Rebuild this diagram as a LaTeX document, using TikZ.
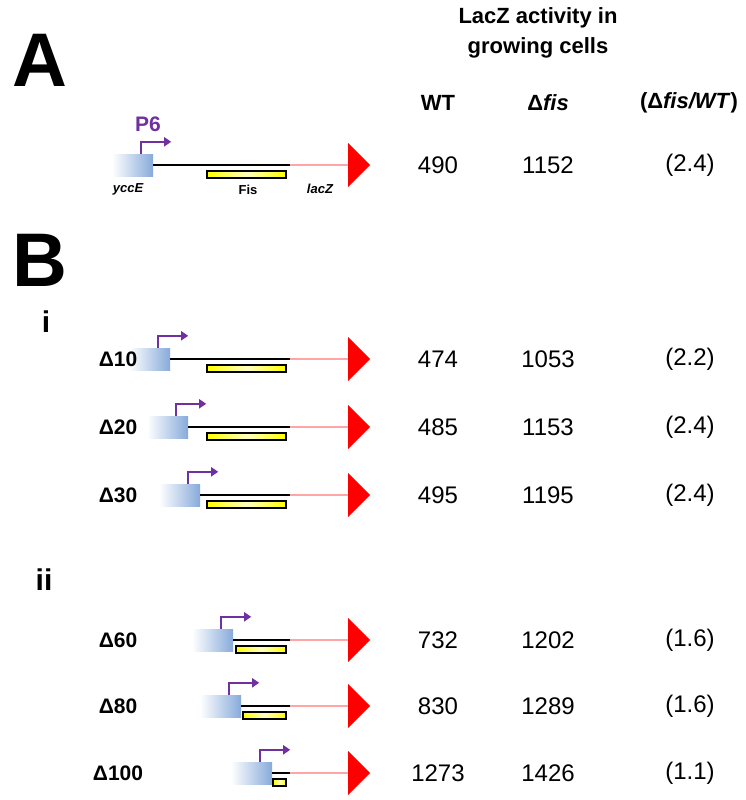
\documentclass[tikz,border=0pt]{standalone}
\usepackage{fontspec}
\setmainfont{Liberation Sans}
\usetikzlibrary{shapes.arrows,arrows.meta,fit}
\definecolor{promblue}{RGB}{135,170,218}
\definecolor{promviolet}{RGB}{112,48,160}

\begin{document}
\begin{tikzpicture}[x=1pt,y=-1pt,
    pnode/.style={draw=none,minimum width=41pt,minimum height=22pt,inner sep=0,left color=white,right color=promblue},
    fnode/.style={draw,line width=1.2pt,inner sep=0,left color=yellow,right color=yellow,middle color=yellow!25},
    gnode/.style={single arrow,fill=red,draw=none,minimum height=80pt,minimum width=44pt,single arrow head extend=9pt,inner sep=0},
    prom/.style={promviolet,line width=2.5pt,-{Triangle[length=7pt,width=9pt]}},
    val/.style={font=\fontsize{24}{26}\selectfont},
    hdr/.style={font=\fontsize{22}{30}\selectfont\bfseries},
    rlab/.style={font=\fontsize{21}{21}\selectfont\bfseries},
    small/.style={font=\fontsize{13}{13}\selectfont\bfseries}]
    \useasboundingbox (0,0) rectangle (746,800);

    % headers
    \node[font=\fontsize{76}{76}\selectfont\bfseries] (A) at (40,60) {A};
    \node[font=\fontsize{76}{76}\selectfont\bfseries] (B) at (40,260) {B};
    \node[hdr,align=center] (t) at (538,33) {LacZ activity in\\growing cells};
    \node[hdr] (hwt) at (438,103) {WT};
    \node[hdr] (hfis) at (548,103) {Δ\textit{fis}};
    \node[hdr] (hr) at (689,103) {(Δ\textit{fis/WT})};
    \node[font=\fontsize{30}{30}\selectfont\bfseries] (i) at (46,322) {i};
    \node[font=\fontsize{30}{30}\selectfont\bfseries] (ii) at (44,580) {ii};

    % constructs
    \foreach \nm/\lab/\y/\bx/\fx/\wt/\fis/\r in {a//165/153/207/490/1152/2.4,
        d10/10/359/170/207/474/1053/2.2, d20/20/427/188/207/485/1153/2.4,
        d30/30/495/200/207/495/1195/2.4, d60/60/640/233/236/732/1202/1.6,
        d80/80/706/241/243/830/1289/1.6, d100/100/773/272/273/1273/1426/1.1} {
      \node[pnode] (\nm p) at (\bx-20.5,\y) {};
      \node[gnode,anchor=west] (\nm g) at (290,\y) {};
      \draw[line width=1.6pt] (\nm p.east) -- (\nm g.west);
      \path (\fx,\y+6) coordinate (\nm f1) (286,\y+13) coordinate (\nm f2);
      \node[fnode,fit=(\nm f1)(\nm f2)] (\nm f) {};
      \draw[prom] ([xshift=-12pt]\nm p.north east) -- ++(0,12pt) -- ++(30pt,0);
      \node[val] (\nm w) at (438,\y) {\wt};
      \node[val] (\nm x) at (548,\y) {\fis};
      \node[val] (\nm r) at (690,\y) {(\r)};
      \ifx\lab\empty\else
        \node[rlab] (\nm l) at (118,\y) {Δ\lab};
      \fi
    }

    % labels of construct A
    \node[promviolet,rlab] (p6) at (148,124) {P6};
    \node[small] (yc) at (128,189) {\itshape yccE};
    \node[small] (fl) at (248,190) {Fis};
    \node[small] (lz) at (320,189) {\itshape lacZ};
\end{tikzpicture}
\end{document}
